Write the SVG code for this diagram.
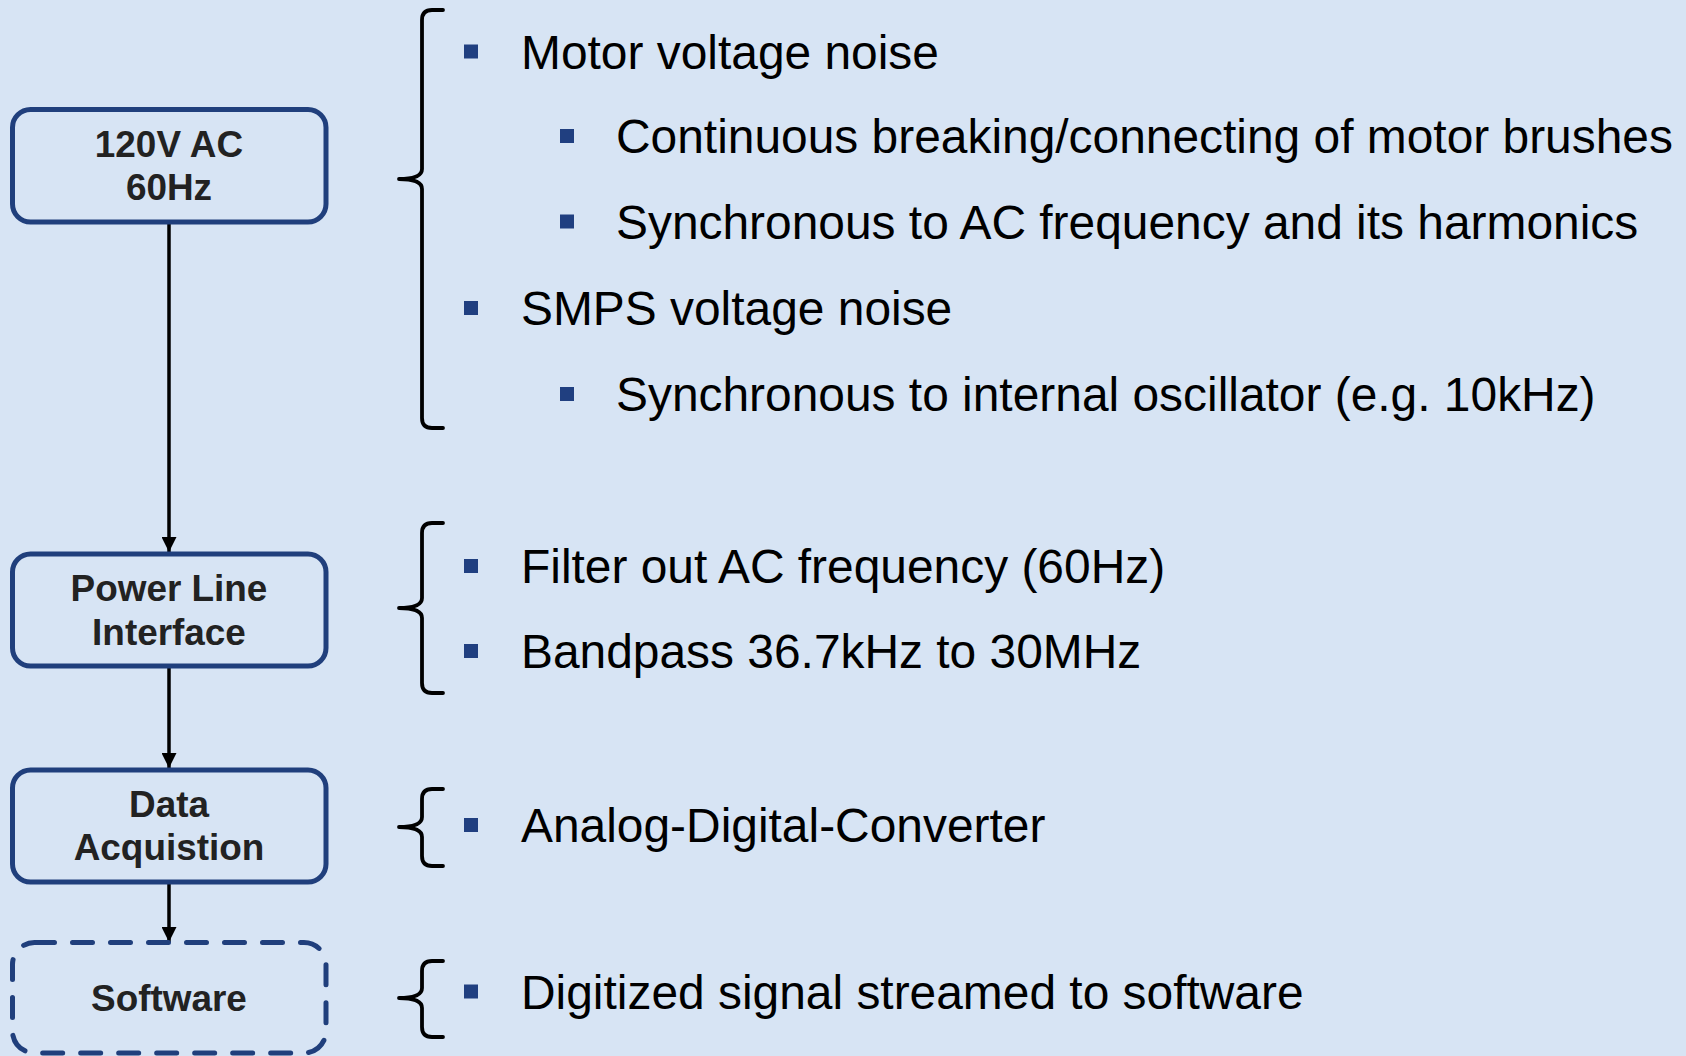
<svg xmlns="http://www.w3.org/2000/svg" width="1686" height="1056" viewBox="0 0 1686 1056">
<defs>
<style>
.node{fill:none;stroke:#203F7C;stroke-width:5}
.dash{stroke-dasharray:20 18;stroke-linecap:round}
.nt{font-family:"Liberation Sans",Arial,sans-serif;font-weight:bold;font-size:36.9px;fill:#222;text-anchor:middle}
.t{font-family:"Liberation Sans",Arial,sans-serif;font-size:47.9px;fill:#000}
.b{fill:#203F80}
.conn{stroke:#000;stroke-width:3.5;fill:none}
.brace{stroke:#000;stroke-width:3.8;fill:none;stroke-linecap:round;stroke-linejoin:round}
</style>
<marker id="ah" viewBox="0 0 10 10" refX="10" refY="5" markerWidth="15" markerHeight="15" markerUnits="userSpaceOnUse" orient="auto">
<path d="M0,0 L10,5 L0,10 Z" fill="#000"/>
</marker>
</defs>
<rect width="1686" height="1056" fill="#D7E4F4"/>
<g id="connectors">
<line class="conn" x1="169" y1="224" x2="169" y2="552" marker-end="url(#ah)"/>
<line class="conn" x1="169" y1="668" x2="169" y2="768" marker-end="url(#ah)"/>
<line class="conn" x1="169" y1="884" x2="169" y2="942" marker-end="url(#ah)"/>
</g>
<g id="node-ac">
<rect class="node" x="12.5" y="109.5" width="313.5" height="112.5" rx="18"/>
<text class="nt" x="169" y="157">120V AC</text>
<text class="nt" x="169" y="200">60Hz</text>
</g>
<g id="node-pli">
<rect class="node" x="12.5" y="554" width="313.5" height="112" rx="18"/>
<text class="nt" x="169" y="601">Power Line</text>
<text class="nt" x="169" y="645">Interface</text>
</g>
<g id="node-daq">
<rect class="node" x="12.5" y="770" width="313.5" height="112" rx="18"/>
<text class="nt" x="169" y="817">Data</text>
<text class="nt" x="169" y="860">Acquistion</text>
</g>
<g id="node-sw">
<rect class="node dash" x="12.5" y="942.5" width="313.5" height="110.5" rx="22"/>
<text class="nt" x="169" y="1011">Software</text>
</g>
<g id="braces">
<path class="brace" d="M443,10 H432 Q422,10 422,20 V169 Q422,179 399,179 Q422,179 422,189 V418 Q422,428 432,428 H443"/>
<path class="brace" d="M443,523 H432 Q422,523 422,533 V598 Q422,608 399,608 Q422,608 422,618 V683 Q422,693 432,693 H443"/>
<path class="brace" d="M443,789 H432 Q422,789 422,799 V817 Q422,827 399,827 Q422,827 422,837 V856 Q422,866 432,866 H443"/>
<path class="brace" d="M443,961 H432 Q422,961 422,971 V988 Q422,998 399,998 Q422,998 422,1008 V1027 Q422,1037 432,1037 H443"/>
</g>
<g id="text-ac">
<rect class="b" x="464" y="44.5" width="14" height="14"/>
<text class="t" x="521" y="68.5">Motor voltage noise</text>
<rect class="b" x="560" y="129" width="14" height="14"/>
<text class="t" x="616" y="153">Continuous breaking/connecting of motor brushes</text>
<rect class="b" x="560" y="214.5" width="14" height="14"/>
<text class="t" x="616" y="238.5">Synchronous to AC frequency and its harmonics</text>
<rect class="b" x="464" y="301" width="14" height="14"/>
<text class="t" x="521" y="325">SMPS voltage noise</text>
<rect class="b" x="560" y="387" width="14" height="14"/>
<text class="t" x="616" y="411">Synchronous to internal oscillator (e.g. 10kHz)</text>
</g>
<g id="text-pli">
<rect class="b" x="464" y="559" width="14" height="14"/>
<text class="t" x="521" y="583">Filter out AC frequency (60Hz)</text>
<rect class="b" x="464" y="644" width="14" height="14"/>
<text class="t" x="521" y="668">Bandpass 36.7kHz to 30MHz</text>
</g>
<g id="text-daq">
<rect class="b" x="464" y="818" width="14" height="14"/>
<text class="t" x="521" y="842">Analog-Digital-Converter</text>
</g>
<g id="text-sw">
<rect class="b" x="464" y="984.5" width="14" height="14"/>
<text class="t" x="521" y="1008.5">Digitized signal streamed to software</text>
</g>
</svg>
